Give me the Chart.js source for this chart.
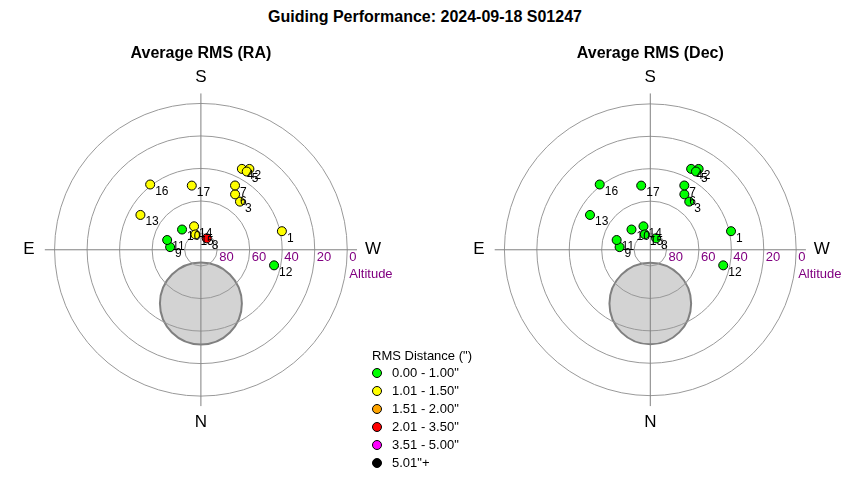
<!DOCTYPE html>
<html lang="en">
<head>
  <meta charset="UTF-8" />
  <title>Guiding Performance</title>
  <style>
    body { margin: 0; background: #fff; font-family: Arial, "Liberation Sans", sans-serif; }
    #wrap { position: relative; width: 850px; height: 480px; overflow: hidden; background: #fff; }
    #main-title { position: absolute; left: 0; top: 8px; width: 850px; text-align: center; font-weight: bold; font-size: 16px; color: #000; }
    #chart-ra { position: absolute; left: 0; top: 0; }
    #chart-dec { position: absolute; left: 450px; top: 0; }
    #legend { position: absolute; left: 372px; top: 348px; font-size: 13px; color: #000; }
    #legend .head { font-size: 13px; margin-bottom: 1px; }
    #legend .row { position: relative; height: 18px; line-height: 18px; padding-left: 20px; }
    #legend .dot { position: absolute; left: 0; top: 4px; width: 8px; height: 8px; border-radius: 50%; border: 1px solid #000; }
  </style>
</head>
<body>
  <div id="wrap">
    <div id="main-title">Guiding Performance: 2024-09-18 S01247</div>
    <canvas id="chart-ra" width="450" height="480"></canvas>
    <canvas id="chart-dec" width="400" height="480"></canvas>
    <div id="legend"></div>
  </div>

  <script src="https://cdn.jsdelivr.net/npm/chart.js"></script>
  <script>
    // guide star positions
    const pointIds  = [1, 2, 3, 4, 5, 6, 7, 8, 9, 10, 11, 12, 13, 14, 15, 16, 17];
    const altitude  = [38.9, 32.1, 51.9, 34.3, 34.3, 50.0, 45.3, 82.1, 71.0, 73.0, 68.4, 44.0, 47.1, 75.0, 80.0, 39.2, 50.2];
    const azimuth   = [257.1, 211.0, 219.1, 206.9, 210.4, 211.7, 208.0, 207.1, 94.9, 137.0, 106.1, 282.0, 119.9, 163.7, 160.4, 142.1, 171.9];

    // RMS band index of each point (see bandLabels)
    const raBand  = [1, 1, 1, 1, 1, 1, 1, 3, 0, 0, 0, 0, 1, 1, 1, 1, 1];
    const decBand = [0, 0, 0, 0, 0, 0, 0, 0, 0, 0, 0, 0, 0, 0, 0, 0, 0];

    const bandLabels = ['0.00 - 1.00"', '1.01 - 1.50"', '1.51 - 2.00"', '2.01 - 3.50"', '3.51 - 5.00"', '5.01"+'];
    const bandColors = ['#00ff00', '#ffff00', '#ffa500', '#ff0000', '#ff00ff', '#000000'];

    const altitudeTicks = [80, 60, 40, 20, 0];
    const compassLabels = ['S', 'W', 'N', 'E'];
    const compassAz     = [180, 270, 0, 90];

    // shaded zone below the pole
    const zoneAlt = 57, zoneAz = 0, zoneRadius = 25.2;

    const PX_PER_DEG = 150 / 90;
    const CX = 200.3, CY = 250;

    // alt/az -> plot units (zenith distance, S up, W right)
    function toXY(alt, az) {
      const r = 90 - alt;
      const a = az * Math.PI / 180;
      return { x: -r * Math.sin(a), y: -r * Math.cos(a) };
    }

    const polarGrid = {
      id: 'polarGrid',
      beforeDatasetsDraw(chart) {
        const ctx = chart.ctx;
        const xs = chart.scales.x, ys = chart.scales.y;
        const cx = xs.getPixelForValue(0), cy = ys.getPixelForValue(0);
        const unit = xs.getPixelForValue(1) - cx;
        ctx.save();

        // shaded zone
        const z = toXY(zoneAlt, zoneAz);
        ctx.beginPath();
        ctx.arc(xs.getPixelForValue(z.x), ys.getPixelForValue(z.y), zoneRadius * unit, 0, Math.PI * 2);
        ctx.fillStyle = '#d3d3d3';
        ctx.fill();
        ctx.lineWidth = 2;
        ctx.strokeStyle = '#808080';
        ctx.stroke();

        // altitude rings
        ctx.lineWidth = 1;
        ctx.strokeStyle = '#999999';
        altitudeTicks.forEach(t => {
          ctx.beginPath();
          ctx.arc(cx, cy, (90 - t) * unit, 0, Math.PI * 2);
          ctx.stroke();
        });

        // cross lines
        ctx.strokeStyle = '#808080';
        ctx.beginPath();
        ctx.moveTo(xs.getPixelForValue(-96), cy);
        ctx.lineTo(xs.getPixelForValue(96), cy);
        ctx.moveTo(cx, ys.getPixelForValue(96));
        ctx.lineTo(cx, ys.getPixelForValue(-96));
        ctx.stroke();

        // altitude tick labels
        ctx.fillStyle = '#800080';
        ctx.font = '13px Arial, "Liberation Sans", sans-serif';
        ctx.textAlign = 'left';
        ctx.textBaseline = 'middle';
        altitudeTicks.forEach(t => {
          ctx.fillText(String(t), xs.getPixelForValue(90 - t) + 2, cy + 8);
        });
        ctx.fillText('Altitude', xs.getPixelForValue(90) + 2, cy + 25);

        // compass letters
        ctx.fillStyle = '#000';
        ctx.font = '17px Arial, "Liberation Sans", sans-serif';
        ctx.textAlign = 'center';
        compassLabels.forEach((s, i) => {
          const p = toXY(-15.8, compassAz[i]);
          ctx.fillText(s, xs.getPixelForValue(p.x), ys.getPixelForValue(p.y));
        });

        // subplot title
        ctx.font = 'bold 16px Arial, "Liberation Sans", sans-serif';
        ctx.fillText(chart.options.plugins.polarGrid.title, cx, 54);
        ctx.restore();
      },
      afterDatasetsDraw(chart) {
        const ctx = chart.ctx;
        const meta = chart.getDatasetMeta(0);
        ctx.save();
        ctx.fillStyle = '#000';
        ctx.font = '12px Arial, "Liberation Sans", sans-serif';
        ctx.textAlign = 'left';
        ctx.textBaseline = 'middle';
        meta.data.forEach((pt, i) => {
          ctx.fillText(String(pointIds[i]), pt.x + 5, pt.y + 7);
        });
        ctx.restore();
      }
    };

    function makeChart(id, title, bands) {
      const canvas = document.getElementById(id);
      const w = canvas.width, h = canvas.height;
      const pts = altitude.map((alt, i) => toXY(alt, azimuth[i]));
      return new Chart(canvas, {
        type: 'scatter',
        data: {
          datasets: [{
            data: pts,
            pointRadius: 4.5,
            pointBorderWidth: 1,
            pointBorderColor: '#000',
            pointBackgroundColor: bands.map(b => bandColors[b])
          }]
        },
        options: {
          responsive: false,
          animation: false,
          layout: { padding: 0 },
          scales: {
            x: { type: 'linear', display: false, min: -CX / PX_PER_DEG, max: (w - CX) / PX_PER_DEG },
            y: { type: 'linear', display: false, min: -(h - CY) / PX_PER_DEG, max: CY / PX_PER_DEG }
          },
          plugins: {
            legend: { display: false },
            tooltip: { enabled: false },
            polarGrid: { title: title }
          }
        },
        plugins: [polarGrid]
      });
    }

    makeChart('chart-ra', 'Average RMS (RA)', raBand);
    makeChart('chart-dec', 'Average RMS (Dec)', decBand);

    // legend
    const legend = document.getElementById('legend');
    legend.innerHTML = '<div class="head">RMS Distance (")</div>' +
      bandLabels.map((l, i) =>
        `<div class="row"><span class="dot" style="background:${bandColors[i]}"></span>${l}</div>`
      ).join('');
  </script>
</body>
</html>
